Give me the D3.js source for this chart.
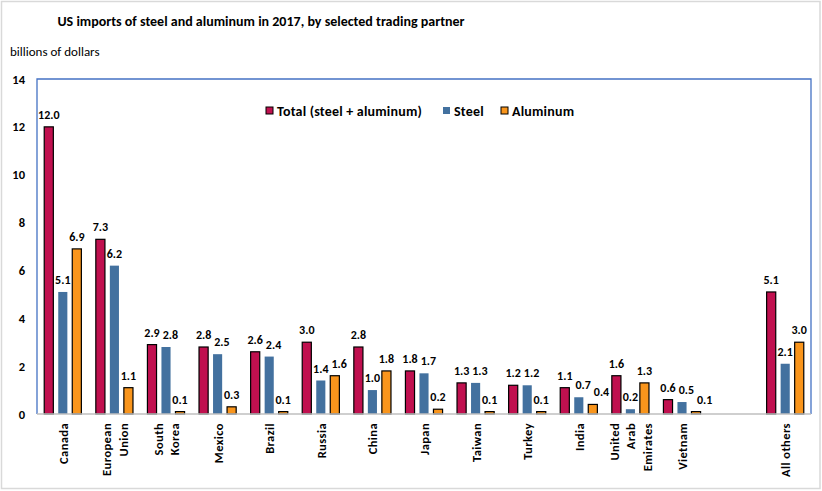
<!DOCTYPE html>
<html>
<head>
<meta charset="utf-8">
<script src="https://cdn.jsdelivr.net/npm/d3@7"></script>
<style>
  html, body { margin: 0; padding: 0; background: #fff; }
  svg { display: block; font-family: Carlito, Lato, "Open Sans", sans-serif; }
</style>
</head>
<body>
<svg id="chart" width="822" height="491"></svg>
<script>
const categories = [
  ["Canada"], ["European", "Union"], ["South", "Korea"], ["Mexico"], ["Brazil"],
  ["Russia"], ["China"], ["Japan"], ["Taiwan"], ["Turkey"], ["India"],
  ["United", "Arab", "Emirates"], ["Vietnam"], [], ["All others"]
];
const seriesNames = ["Total (steel + aluminum)", "Steel", "Aluminum"];
const totalValues    = [12.0, 7.3, 2.9, 2.8, 2.6, 3.0, 2.8, 1.8, 1.3, 1.2, 1.1, 1.6, 0.6, null, 5.1];
const steelValues    = [5.1, 6.2, 2.8, 2.5, 2.4, 1.4, 1.0, 1.7, 1.3, 1.2, 0.7, 0.2, 0.5, null, 2.1];
const aluminumValues = [6.9, 1.1, 0.1, 0.3, 0.1, 1.6, 1.8, 0.2, 0.1, 0.1, 0.4, 1.3, 0.1, null, 3.0];
const yTicks = [0, 2, 4, 6, 8, 10, 12, 14];

const colors = ["#C0104F", "#43719F", "#F9951C"];
const strokes = ["#000", "none", "#000"];
const seriesValues = [totalValues, steelValues, aluminumValues];

const svg = d3.select("#chart");
const pLeft = 37, pRight = 811, pTop = 79, pBottom = 414;

// outer frame
svg.append("rect").attr("x", 1.5).attr("y", 1.5).attr("width", 818.5).attr("height", 487)
  .attr("fill", "#fff").attr("stroke", "#d9d9d9").attr("stroke-width", 1.5);

// title
svg.append("text").attr("x", 261).attr("y", 26).attr("text-anchor", "middle")
  .attr("font-size", 14).attr("font-weight", "bold").attr("fill", "#000")
  .text("US imports of steel and aluminum in 2017, by selected trading partner");
svg.append("text").attr("x", 10).attr("y", 56).attr("font-size", 13).attr("fill", "#000")
  .text("billions of dollars");

const keys = categories.map((c, i) => "c" + i);
const x0 = d3.scaleBand().domain(keys).range([pLeft, pRight]).paddingInner(0.28).paddingOuter(0.14);
const x1 = d3.scaleBand().domain([0, 1, 2]).range([0, x0.bandwidth()]).paddingInner(0.35).paddingOuter(0);
const y = d3.scaleLinear().domain([0, 14]).range([pBottom, pTop]);

// plot border (top, left, right blue)
svg.append("path").attr("d", `M${pLeft},${pBottom}V${pTop}H${pRight}V${pBottom}`)
  .attr("fill", "none").attr("stroke", "#4472C4").attr("stroke-width", 1.3);

// y axis labels
const yAxis = d3.axisLeft(y).tickValues(yTicks).tickFormat(d3.format("d")).tickSize(0).tickPadding(12);
const ya = svg.append("g").attr("transform", `translate(${pLeft},0)`).call(yAxis);
ya.select(".domain").remove();
ya.selectAll("text").attr("font-size", 12.5).attr("font-weight", "bold").attr("fill", "#000")
  .attr("font-family", "Carlito, Lato, 'Open Sans', sans-serif");

// bars + value labels (labels nudged right if they collide with the previous one)
const labelH = 11;
categories.forEach((c, i) => {
  const grp = svg.append("g").attr("transform", `translate(${x0(keys[i])},0)`);
  let prev = null;
  seriesValues.forEach((vals, s) => {
    const v = vals[i];
    if (v == null) return;
    grp.append("rect")
      .attr("x", x1(s)).attr("y", y(v)).attr("width", x1.bandwidth()).attr("height", y(0) - y(v))
      .attr("fill", colors[s]).attr("stroke", strokes[s]).attr("stroke-width", 1.2);
    const t = grp.append("text")
      .attr("y", y(v) - 8)
      .attr("text-anchor", "start").attr("font-size", 12).attr("font-weight", "bold").attr("fill", "#000")
      .text(v.toFixed(1));
    const w = t.node().getComputedTextLength();
    let lx = x1(s) + x1.bandwidth() / 2 - w / 2;
    const ly = y(v) - 8;
    if (prev && Math.abs(ly - prev.y) < labelH && lx < prev.x + prev.w + 3) {
      lx = prev.x + prev.w + 3;
    }
    t.attr("x", lx);
    prev = { x: lx, y: ly, w: w };
  });
});

// x axis line (grey)
const xAxis = d3.axisBottom(x0).tickSize(0).tickFormat("");
const xa = svg.append("g").attr("transform", `translate(0,${pBottom})`).call(xAxis);
xa.select(".domain").attr("stroke", "#bfbfbf").attr("stroke-width", 1.3)
  .attr("d", `M${pLeft},0H${pRight}`);

// x labels, rotated, multiline
categories.forEach((lines, i) => {
  const cx = x0(keys[i]) + x0.bandwidth() / 2;
  const n = lines.length;
  lines.forEach((ln, j) => {
    const lx = cx + (j - (n - 1) / 2) * 16.5 + 5;
    svg.append("text")
      .attr("transform", `translate(${lx},${pBottom + 9}) rotate(-90)`)
      .attr("text-anchor", "end").attr("font-size", 12.5).attr("font-weight", "bold").attr("fill", "#000")
      .attr("letter-spacing", 0.4)
      .text(ln);
  });
});

// legend
const legendItems = [
  { x: 266, label: seriesNames[0] },
  { x: 443, label: seriesNames[1] },
  { x: 501, label: seriesNames[2] }
];
legendItems.forEach((it, s) => {
  svg.append("rect").attr("x", it.x).attr("y", 107).attr("width", 7).attr("height", 7)
    .attr("fill", colors[s]).attr("stroke", strokes[s]).attr("stroke-width", 1);
  svg.append("text").attr("x", it.x + 11).attr("y", 116).attr("font-size", 14)
    .attr("font-weight", "bold").attr("fill", "#000").attr("letter-spacing", 0.2).text(it.label);
});
</script>
</body>
</html>
